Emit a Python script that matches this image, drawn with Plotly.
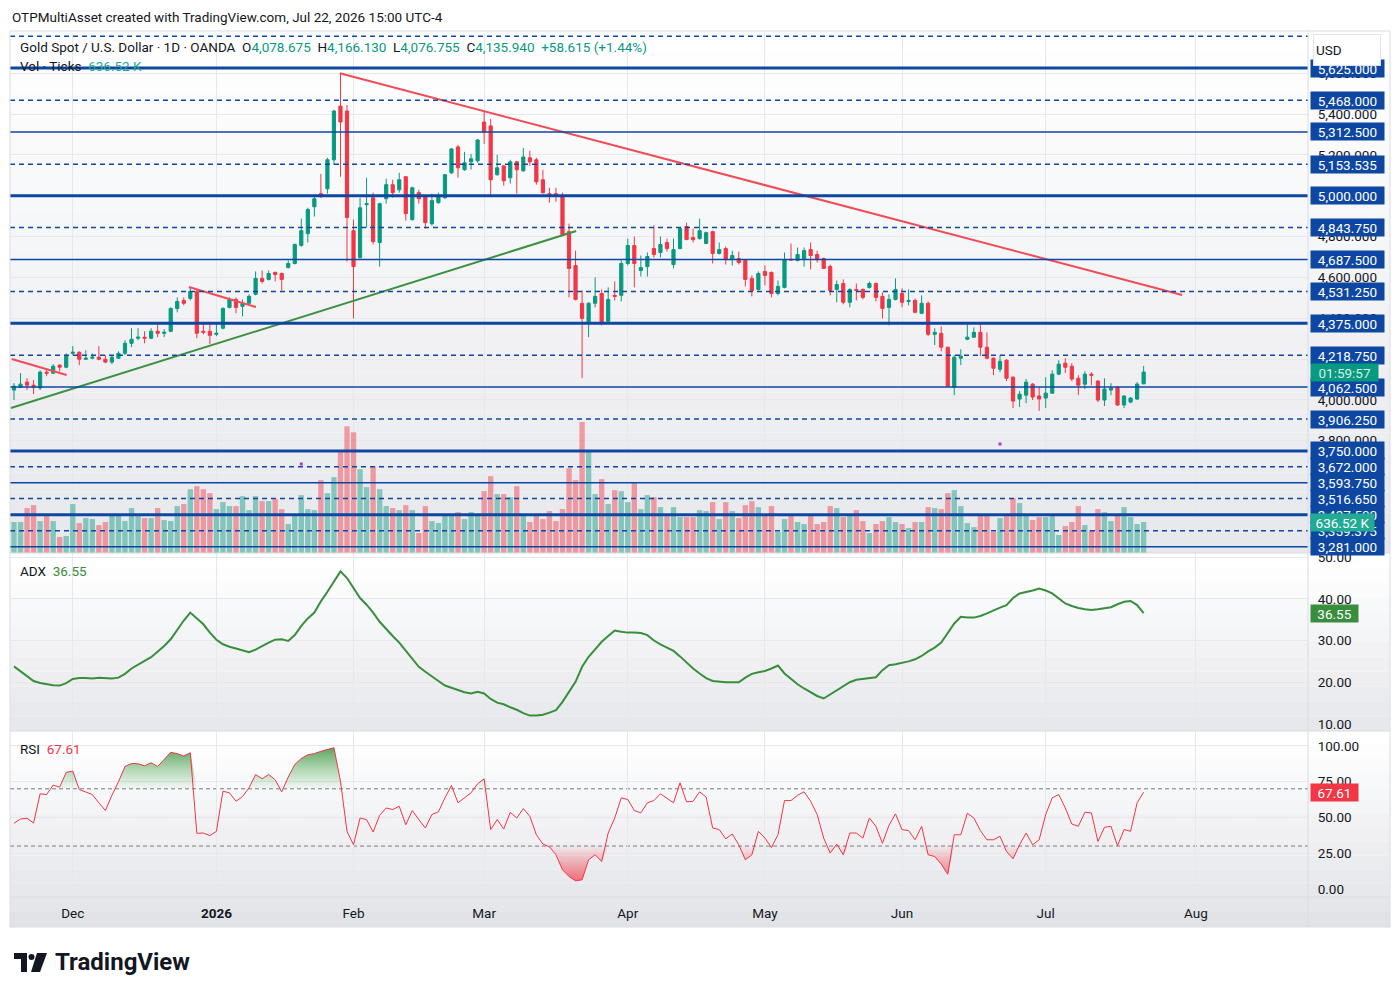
import numpy as np
import pandas as pd
import plotly.graph_objects as go

# ---------------- data ----------------
session_start = "2025-11-18"
last_session = "2026-07-22"
calendar_end = "2026-08-31"
market_holidays = ["2025-12-25", "2026-01-01", "2026-04-03"]

opens = [4048,4062,4087,4072,4058,4136,4131,4170,4160,4228,
         4233,4199,4204,4209,4199,4185,4204,4228,4277,4302,
         4307,4302,4336,4326,4336,4448,4487,4497,4531,4336,
         4336,4321,4351,4453,4492,4458,4473,4517,4595,4590,
         4624,4619,4648,4668,4756,4814,4946,5010,5034,5176,
         5439,5415,4829,4697,4956,4990,4771,4985,5054,5029,
         5093,4883,5015,4995,4863,4966,4990,5112,5239,5127,
         5166,5171,5361,5342,5103,5146,5088,5166,5122,5186,
         5176,5078,5010,5010,5000,4824,4658,4473,4375,4473,
         4521,4385,4512,4512,4668,4756,4634,4653,4741,4722,
         4771,4663,4741,4849,4795,4790,4766,4824,4717,4741,
         4687,4692,4683,4595,4541,4629,4624,4521,4551,4688,
         4683,4687,4736,4712,4692,4653,4541,4570,4478,4541,
         4541,4551,4570,4507,4453,4492,4521,4482,4487,4424,
         4473,4321,4326,4258,4062,4204,4297,4307,4331,4258,
         4204,4150,4194,4111,4004,4023,4077,4019,4009,4033,
         4126,4180,4165,4106,4077,4126,4092,3999,4048,4062,
         3975,3989,4004,4078.675]
highs = [4082,4131,4106,4097,4145,4155,4175,4175,4228,4263,
         4238,4243,4228,4263,4219,4219,4238,4292,4351,4351,
         4336,4351,4375,4346,4453,4502,4502,4551,4546,4375,
         4375,4375,4453,4502,4502,4492,4517,4629,4634,4634,
         4629,4624,4683,4766,4888,4941,5000,5107,5186,5420,
         5598,5444,4883,4990,5088,5015,4966,5083,5078,5112,
         5096,5044,5029,4998,5010,5015,5107,5234,5249,5215,
         5205,5278,5415,5376,5200,5151,5176,5171,5234,5220,
         5186,5127,5039,5039,5015,4863,4731,4536,4478,4600,
         4541,4551,4580,4683,4790,4800,4707,4722,4854,4800,
         4790,4790,4844,4868,4839,4888,4824,4829,4771,4751,
         4731,4726,4687,4609,4629,4658,4629,4585,4722,4766,
         4746,4746,4771,4731,4697,4663,4585,4590,4546,4570,
         4546,4580,4575,4526,4517,4595,4546,4541,4497,4512,
         4482,4351,4360,4260,4219,4248,4370,4355,4380,4331,
         4209,4219,4199,4116,4043,4102,4082,4062,4111,4145,
         4194,4204,4180,4121,4140,4136,4097,4106,4082,4067,
         4022,4014,4087,4166.13]
lows = [3999,4058,4048,4028,4048,4116,4128,4140,4155,4219,
        4170,4196,4199,4194,4180,4175,4201,4219,4258,4292,
        4277,4297,4307,4307,4331,4429,4463,4487,4302,4321,
        4273,4312,4346,4448,4424,4409,4468,4512,4570,4585,
        4580,4536,4644,4663,4751,4771,4898,4990,5010,5151,
        5093,4678,4399,4692,4844,4761,4653,4961,4990,5015,
        4878,4878,4961,4839,4854,4961,4985,5107,5088,5122,
        5127,5161,5254,4995,5098,5049,5059,5010,5117,5146,
        5054,5010,4966,4971,4805,4502,4487,4106,4307,4453,
        4365,4375,4487,4482,4658,4551,4604,4604,4697,4697,
        4726,4644,4738,4783,4771,4785,4763,4668,4712,4663,
        4658,4663,4556,4507,4536,4561,4502,4512,4546,4683,
        4678,4653,4639,4673,4642,4512,4478,4468,4453,4487,
        4492,4546,4482,4399,4365,4487,4453,4463,4424,4421,
        4312,4268,4238,4064,4023,4170,4292,4304,4214,4199,
        4121,4136,4092,3960,3965,3984,3999,3946,3960,4030,
        4121,4131,4092,4023,4053,4072,3989,3970,4023,3970,
        3960,3984,3999,4076.755]
closes = [4067,4077,4072,4062,4136,4131,4165,4160,4214,4233,
          4199,4204,4209,4199,4185,4209,4228,4277,4297,4307,
          4302,4336,4326,4331,4448,4482,4473,4531,4326,4331,
          4316,4326,4448,4492,4453,4473,4507,4595,4580,4619,
          4614,4590,4668,4761,4829,4932,4985,4995,5176,5415,
          5361,4893,4653,4941,4961,4775,4961,5054,5015,5078,
          4912,5039,4985,4868,4976,4995,5103,5229,5137,5161,
          5181,5273,5312,5078,5137,5073,5166,5127,5190,5166,
          5068,5015,5000,5000,4810,4644,4492,4399,4473,4507,
          4375,4492,4507,4668,4756,4668,4648,4702,4712,4761,
          4741,4736,4839,4785,4785,4829,4819,4717,4736,4687,
          4707,4673,4590,4536,4619,4609,4521,4556,4687,4685,
          4712,4731,4707,4687,4644,4536,4565,4478,4541,4536,
          4502,4570,4502,4448,4492,4541,4478,4487,4429,4473,
          4321,4331,4258,4067,4209,4214,4307,4331,4258,4204,
          4155,4189,4106,3994,4028,4087,4014,4004,4033,4126,
          4175,4160,4102,4072,4126,4121,3999,4053,4058,3975,
          4019,4009,4077.325,4135.94]
volume_k = [636,636,923,984,656,800,656,328,349,1005,
            615,718,697,574,636,800,800,656,923,759,
            718,718,923,677,656,964,1005,1312,1374,1312,
            1230,902,1046,964,964,1169,882,1169,1066,1066,
            1107,902,595,800,1189,902,882,1497,1230,1558,
            2077,2604,2481,1722,1353,1784,1312,964,923,882,
            984,882,410,964,656,615,800,800,841,697,
            841,800,1271,1579,1210,1210,1148,1374,800,636,
            800,697,861,656,902,1743,1497,2692,2077,1210,
            1517,1005,1292,1271,1046,1456,902,1189,1148,943,
            759,943,738,738,738,882,861,1046,697,1046,
            861,718,984,1066,943,800,964,431,697,800,
            636,595,759,595,636,964,923,738,759,882,
            656,410,595,656,738,636,595,513,636,636,
            943,923,902,1230,1292,964,615,533,800,800,
            431,718,800,1128,1025,759,677,738,738,800,
            369,554,636,964,574,472,902,841,656,800,
            943,738,595,636.52]
adx = [23.8,22.6,21.3,20.3,19.8,19.5,19.3,19.2,19.8,20.8,
       21.0,21.0,20.9,21.1,21.0,20.9,21.1,22.0,23.3,24.3,
       25.1,26.0,27.3,28.7,30.3,32.7,34.8,36.7,35.3,33.9,
       31.9,30.2,29.1,28.5,28.1,27.7,27.2,27.8,28.7,29.5,
       30.2,30.3,29.9,31.3,33.5,35.3,36.7,39.4,41.7,44.2,
       46.6,45.0,42.5,40.2,38.6,36.7,34.5,32.7,31.1,29.5,
       27.5,25.5,23.7,22.5,21.5,20.3,19.2,18.7,18.2,17.6,
       17.3,17.7,17.3,16.0,15.1,14.7,14.0,13.4,12.6,12.0,
       12.0,12.2,12.7,13.3,15.3,17.7,20.1,23.7,26.1,27.9,
       29.7,31.1,32.4,32.1,31.9,31.9,31.8,31.3,30.0,29.1,
       28.2,27.5,26.2,24.7,23.3,22.1,21.0,20.3,20.1,20.0,
       20.0,20.0,21.1,22.0,22.4,22.7,23.3,24.0,22.1,20.7,
       19.5,18.5,17.6,16.7,16.1,17.1,17.9,19.1,20.0,20.6,
       20.8,21.0,21.2,22.9,24.1,24.3,24.6,25.0,25.5,26.3,
       27.4,28.3,29.5,31.9,34.1,35.7,35.5,35.5,35.9,36.5,
       37.3,37.9,38.5,40.2,41.3,41.6,42.0,42.5,42.0,41.3,
       40.1,38.9,38.3,37.8,37.5,37.3,37.5,37.8,38.0,38.7,
       39.3,39.5,38.5,36.55]
rsi = [45.9,48.9,49.4,46.1,66.5,66.0,72.6,71.2,81.5,82.4,
       69.5,67.7,66.0,60.2,54.8,65.5,74.9,85.6,87.7,87.5,
       86.1,88.2,85.6,90.5,95.5,94.6,92.9,95.2,38.9,39.1,
       37.3,40.3,68.3,67.2,61.3,64.6,70.7,80.0,77.0,80.0,
       76.3,67.9,78.2,87.0,91.2,93.8,94.6,96.2,97.6,98.7,
       75.3,40.3,30.9,49.6,48.5,39.8,51.5,56.6,55.5,57.8,
       44.9,54.8,48.5,42.6,52.0,53.9,63.7,72.3,60.2,63.7,
       67.2,73.5,77.0,41.5,48.5,41.9,53.6,49.6,56.2,50.8,
       37.9,31.4,29.5,23.9,13.4,8.7,5.7,6.4,20.4,23.9,
       19.2,39.1,49.6,63.7,62.5,54.8,53.2,60.2,61.8,66.5,
       63.2,60.2,74.2,60.9,61.3,67.9,64.2,42.6,41.5,35.1,
       38.4,30.9,20.4,23.9,40.3,35.6,29.0,37.9,61.8,61.8,
       65.5,67.9,61.3,52.0,35.6,25.1,31.4,23.9,39.1,39.1,
       35.6,49.6,43.8,31.9,44.5,52.5,41.5,40.8,34.4,43.8,
       23.9,22.7,17.4,10.3,37.9,37.9,52.9,49.6,40.8,34.4,
       34.4,36.8,26.2,21.1,30.9,39.1,30.9,34.4,52.0,63.7,
       66.0,56.6,45.4,43.8,53.6,53.2,33.2,43.1,43.8,30.2,
       41.5,40.3,60.2,67.61]

# horizontal price levels drawn on the chart
levels = [5781.25, 5625, 5468, 5312.5, 5153.535, 5000, 4843.75, 4687.5, 4531.25,
          4375, 4218.75, 4062.5, 3906.25, 3750, 3672, 3593.75, 3516.65, 3437.5,
          3359.375, 3281]
level_kind = ["dash", "thick", "dash", "thin", "dash", "thick", "dash", "thin", "dash",
              "thick", "dash", "thin", "dash", "thick", "dash", "thin", "dash", "thick",
              "dash", "thin"]
level_label_shown = [False] + [True] * 19

month_keys = ["2025-12", "2026-01", "2026-02", "2026-03", "2026-04", "2026-05",
              "2026-06", "2026-07", "2026-08"]
month_labels = ["Dec", "<b>2026</b>", "Feb", "Mar", "Apr", "May", "Jun", "Jul", "Aug"]

# trend-line drawings (bar number, price)
down_trend_bar = [49.9, 178.9]
down_trend_price = [5600, 4514]
up_trend_bar = [-0.46, 86.1]
up_trend_price = [3960, 4827]
early_red_bar = [-0.35, 8.07]
early_red_price = [4200, 4122]
dec_red_bar = [26.8, 37.06]
dec_red_price = [4553, 4455]
event_bar = [44, 151]
event_price = [3686, 3784]

rsi_upper_band, rsi_mid_band, rsi_lower_band = 70, 50, 30
countdown = "01:59:57"
symbol_title = "Gold Spot / U.S. Dollar · 1D · OANDA"
credit = "OTPMultiAsset created with TradingView.com, Jul 22, 2026 15:00 UTC-4"

# ---------------- calendar ----------------
cal = pd.bdate_range(session_start, calendar_end)
cal = cal[~cal.isin(pd.to_datetime(market_holidays))]
dates = cal[cal <= pd.Timestamp(last_session)]
n = len(opens)
x = np.arange(n)
ym = np.array(cal.strftime("%Y-%m"))
tick_pos = [int(np.argmax(ym == k)) for k in month_keys]

# ---------------- styling ----------------
GREEN = "#089981"
RED = "#f23645"
BLUE = "#0d47a1"
TXT = "#131722"
GRID = "#e6e8ed"
FONT = "Roboto"
FS = 13.5

PL, PR, PT, PB = 10, 1308, 33, 897
def xp(px):
    return (px - PL) / (PR - PL)
def yp(py):
    return (PB - py) / (PB - PT)

fig = go.Figure()

vol_colors = ["rgba(8,153,129,0.45)" if c >= o else "rgba(242,54,69,0.45)"
              for o, c in zip(opens, closes)]
fig.add_trace(go.Bar(x=x, y=volume_k, marker=dict(color=vol_colors, line=dict(width=0)),
                     width=0.82, xaxis="x", yaxis="y4", hoverinfo="skip"))

fig.add_trace(go.Candlestick(
    x=x, open=opens, high=highs, low=lows, close=closes,
    increasing=dict(line=dict(color=GREEN, width=1), fillcolor=GREEN),
    decreasing=dict(line=dict(color=RED, width=1), fillcolor=RED),
    whiskerwidth=0, xaxis="x", yaxis="y", hoverinfo="skip"))

for bx, py, col in [(down_trend_bar, down_trend_price, "#f04c58"),
                    (up_trend_bar, up_trend_price, "#3d9142"),
                    (early_red_bar, early_red_price, "#f04c58"),
                    (dec_red_bar, dec_red_price, "#f04c58")]:
    fig.add_trace(go.Scatter(x=bx, y=py, mode="lines", line=dict(color=col, width=2),
                             xaxis="x", yaxis="y", hoverinfo="skip"))

fig.add_trace(go.Scatter(x=event_bar, y=event_price, mode="markers",
                         marker=dict(symbol="square", size=3, color="#a63fc0"),
                         xaxis="x", yaxis="y", hoverinfo="skip"))

fig.add_trace(go.Scatter(x=x, y=adx, mode="lines", line=dict(color="#388e3c", width=2),
                         xaxis="x2", yaxis="y2", hoverinfo="skip"))

rsi_arr = np.array(rsi)
fig.add_trace(go.Scatter(x=x, y=[rsi_upper_band] * n, mode="lines", line=dict(width=0),
                         xaxis="x3", yaxis="y3", hoverinfo="skip"))
fig.add_trace(go.Scatter(x=x, y=np.maximum(rsi_arr, rsi_upper_band), mode="lines",
                         line=dict(width=0), fill="tonexty",
                         fillgradient=dict(type="vertical", start=70, stop=100,
                                           colorscale=[[0, "rgba(76,175,80,0.03)"],
                                                       [1, "rgba(56,142,60,0.85)"]]),
                         xaxis="x3", yaxis="y3", hoverinfo="skip"))
fig.add_trace(go.Scatter(x=x, y=[rsi_lower_band] * n, mode="lines", line=dict(width=0),
                         xaxis="x3", yaxis="y3", hoverinfo="skip"))
fig.add_trace(go.Scatter(x=x, y=np.minimum(rsi_arr, rsi_lower_band), mode="lines",
                         line=dict(width=0), fill="tonexty",
                         fillgradient=dict(type="vertical", start=0, stop=30,
                                           colorscale=[[0, "rgba(242,54,69,0.85)"],
                                                       [1, "rgba(242,54,69,0.03)"]]),
                         xaxis="x3", yaxis="y3", hoverinfo="skip"))
fig.add_trace(go.Scatter(x=x, y=rsi, mode="lines", line=dict(color=RED, width=1),
                         xaxis="x3", yaxis="y3", hoverinfo="skip"))

# ---------------- shapes ----------------
shapes = []
def gradient(y0, y1, c0, c1, nb=26, x0=PL, x1=1390):
    out = []
    for k in range(nb):
        t = k / (nb - 1)
        col = tuple(int(round(c0[j] + (c1[j] - c0[j]) * t)) for j in range(3))
        ya = y0 + (y1 - y0) * k / nb
        yb = y0 + (y1 - y0) * (k + 1) / nb
        out.append(dict(type="rect", xref="paper", yref="paper", x0=xp(x0), x1=xp(x1),
                        y0=yp(yb), y1=yp(ya), fillcolor="rgb(%d,%d,%d)" % col,
                        line=dict(width=0), layer="below"))
    return out

shapes += gradient(31, 553, (255, 255, 255), (231, 232, 236))
shapes += gradient(553, 731, (255, 255, 255), (231, 232, 236), nb=12)
shapes += gradient(731, 897, (255, 255, 255), (231, 232, 236), nb=12)
shapes += gradient(897, 927, (229, 230, 234), (226, 227, 231), nb=2)

for lv, kind in zip(levels, level_kind):
    w = 3 if kind == "thick" else 1.5
    dash = "5px,4px" if kind == "dash" else "solid"
    shapes.append(dict(type="line", xref="paper", yref="y", x0=0, x1=1, y0=lv, y1=lv,
                       line=dict(color=BLUE, width=w, dash=dash), layer="above"))

for lv, col in [(rsi_upper_band, "#787b86"), (rsi_mid_band, "#b2b5be"), (rsi_lower_band, "#787b86")]:
    shapes.append(dict(type="line", xref="paper", yref="y3", x0=0, x1=1, y0=lv, y1=lv,
                       line=dict(color=col, width=1, dash="4px,3px"), layer="between"))

SEP = "#d9dce3"
for py in (553, 731, 897):
    shapes.append(dict(type="line", xref="paper", yref="paper", x0=xp(PL), x1=xp(1390),
                       y0=yp(py), y1=yp(py), line=dict(color=SEP, width=1), layer="above"))
shapes.append(dict(type="line", xref="paper", yref="paper", x0=xp(PR), x1=xp(PR),
                   y0=yp(31), y1=yp(927), line=dict(color=SEP, width=1), layer="above"))
shapes.append(dict(type="rect", xref="paper", yref="paper", x0=xp(PL), x1=xp(1390),
                   y0=yp(927), y1=yp(31), line=dict(color=SEP, width=1), layer="above"))

def path_px(points):
    return "M " + " L ".join("%.5f,%.5f" % (xp(a), yp(b)) for a, b in points) + " Z"
shapes.append(dict(type="path", xref="paper", yref="paper",
                   path=path_px([(14, 953), (27, 953), (27, 972), (21, 972), (21, 959), (14, 959)]),
                   fillcolor=TXT, line=dict(width=0), layer="above"))
shapes.append(dict(type="circle", xref="paper", yref="paper", x0=xp(28.5), x1=xp(34.5),
                   y0=yp(960), y1=yp(954), fillcolor=TXT, line=dict(width=0), layer="above"))
shapes.append(dict(type="path", xref="paper", yref="paper",
                   path=path_px([(37, 953), (47, 953), (40, 972), (31, 972)]),
                   fillcolor=TXT, line=dict(width=0), layer="above"))

# ---------------- annotations ----------------
ann = []
def ann_px(px, py, text, size=FS, color=TXT, **kw):
    return dict(x=xp(px), y=yp(py), xref="paper", yref="paper", text=text, showarrow=False,
                xanchor="left", yanchor="middle", font=dict(size=size, color=color, family=FONT), **kw)

def axis_box(yval, yref, text, bg, width, fg="white"):
    return dict(x=1, xref="paper", y=yval, yref=yref, xanchor="left", yanchor="middle",
                xshift=2, text=text, showarrow=False, bgcolor=bg,
                font=dict(size=FS, color=fg, family=FONT), width=width, height=15,
                borderpad=1, align="center")

ann.append(ann_px(10, 17, credit))
chg = closes[-1] - closes[-2]
pct = chg / closes[-2] * 100
gs = "<span style='color:%s'>%s</span>"
line1 = (symbol_title + "  O" + gs % (GREEN, f"{opens[-1]:,.3f}") +
         "  H" + gs % (GREEN, f"{highs[-1]:,.3f}") +
         "  L" + gs % (GREEN, f"{lows[-1]:,.3f}") +
         "  C" + gs % (GREEN, f"{closes[-1]:,.3f}") +
         "  " + gs % (GREEN, f"{chg:+,.3f} ({pct:+.2f}%)"))
ann.append(ann_px(18, 47, line1))
ann.append(ann_px(18, 66, "Vol · Ticks  " + gs % ("#22ab94", f"{volume_k[-1]:.2f} K")))
ann.append(ann_px(18, 571, "ADX  " + gs % ("#388e3c", f"{adx[-1]:.2f}")))
ann.append(ann_px(18, 749, "RSI  " + gs % (RED, f"{rsi[-1]:.2f}")))

for lv, shown in zip(levels, level_label_shown):
    if shown:
        ann.append(axis_box(lv, "y", f"{lv:,.3f}", BLUE, 71))
ann.append(dict(x=xp(1313), y=yp(50), xref="paper", yref="paper", xanchor="left", yanchor="middle",
                text="USD", showarrow=False, bgcolor="white", bordercolor="#e0e3eb", borderwidth=1,
                font=dict(size=FS, color=TXT, family=FONT), width=62, height=26, borderpad=2, align="left"))
ann.append(axis_box(closes[-1], "y", countdown, GREEN, 65, fg="rgba(255,255,255,0.85)"))
ann.append(axis_box(volume_k[-1], "y4", f"{volume_k[-1]:.2f} K", "#22ab94", 61))
ann.append(axis_box(adx[-1], "y2", f"{adx[-1]:.2f}", "#388e3c", 45))
ann.append(axis_box(rsi[-1], "y3", f"{rsi[-1]:.2f}", RED, 45))
ann.append(ann_px(53, 962, "<b>TradingView</b>", size=24))

# ---------------- layout ----------------
def xax(anchor, labels):
    d = dict(range=[-0.61, 198.17], tickvals=tick_pos, ticktext=month_labels, showgrid=True,
             gridcolor=GRID, gridwidth=1, zeroline=False, showline=False, anchor=anchor,
             domain=[0, 1], fixedrange=True, showticklabels=labels,
             tickfont=dict(size=FS, color=TXT, family=FONT))
    if labels:
        d.update(ticks="outside", ticklen=4, tickcolor="rgba(0,0,0,0)")
    else:
        d.update(ticks="")
    return d

def yax(anchor, domain, rng, **kw):
    d = dict(anchor=anchor, domain=domain, range=rng, side="right", showgrid=True,
             gridcolor=GRID, zeroline=False, showline=False, ticks="outside", ticklen=6,
             tickcolor="rgba(0,0,0,0)", tickfont=dict(size=FS, color=TXT, family=FONT),
             fixedrange=True)
    d.update(kw)
    return d

x1 = xax("y", False)
x1["rangeslider"] = dict(visible=False)
x2 = xax("y2", False)
x2["matches"] = "x"
x3 = xax("y3", True)
x3["matches"] = "x"

fig.update_layout(
    width=1400, height=996, autosize=False,
    margin=dict(l=PL, r=1400 - PR, t=PT, b=996 - PB),
    paper_bgcolor="white", plot_bgcolor="rgba(0,0,0,0)",
    font=dict(family=FONT, size=FS, color=TXT),
    showlegend=False, hovermode=False, dragmode=False,
    xaxis=x1, xaxis2=x2, xaxis3=x3,
    yaxis=yax("x", [yp(553), 1], [3250, 5797], dtick=200, tick0=0, tickformat=",.3f"),
    yaxis2=yax("x2", [yp(731), yp(553)], [8.3, 51], tickvals=[10, 20, 30, 40, 50], tickformat=".2f"),
    yaxis3=yax("x3", [0, yp(731)], [-5.6, 110.4], tickvals=[0, 25, 50, 75, 100], tickformat=".2f"),
    yaxis4=dict(overlaying="y", anchor="x", range=[0, 10686], visible=False, fixedrange=True),
    shapes=shapes, annotations=ann,
)

fig.write_html("out.html", config={"displayModeBar": False})
